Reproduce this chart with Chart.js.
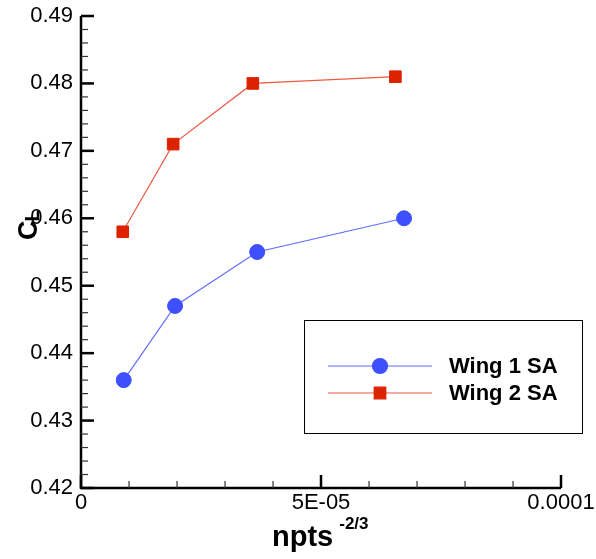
<!DOCTYPE html>
<html>
<head>
<meta charset="utf-8">
<script src="https://cdn.jsdelivr.net/npm/chart.js@4.4.1/dist/chart.umd.min.js"></script>
<style>
    html, body { margin: 0; padding: 0; background: #fff; }
    #wrap { width: 596px; height: 559px; }
</style>
</head>
<body>
<div id="wrap"><canvas id="chart" width="596" height="559"></canvas></div>
<script>
// values
const wing1X = [8.9e-6, 19.6e-6, 36.7e-6, 67.3e-6];
const wing1Cl = [0.436, 0.447, 0.455, 0.460];
const wing2X = [8.7e-6, 19.2e-6, 35.8e-6, 65.5e-6];
const wing2Cl = [0.458, 0.471, 0.480, 0.481];
const seriesNames = ["Wing 1 SA", "Wing 2 SA"];

const xTicks = [0, 5e-5, 1e-4];
const xTickLabels = ["0", "5E-05", "0.0001"];
const yTicks = [0.42, 0.43, 0.44, 0.45, 0.46, 0.47, 0.48, 0.49];
const yTickLabels = ["0.42", "0.43", "0.44", "0.45", "0.46", "0.47", "0.48", "0.49"];

const FONT = "Arial, 'Liberation Sans', sans-serif";

function toPoints(xs, ys) {
    return xs.map((x, i) => ({ x: x, y: ys[i] }));
}

// axis lines, inward major/minor ticks, titles and legend box
const decorations = {
    id: "decorations",
    afterDraw(chart) {
        const ctx = chart.ctx;
        const area = chart.chartArea;
        const xs = chart.scales.x;
        const ys = chart.scales.y;
        ctx.save();
        ctx.strokeStyle = "#000";

        // axis lines
        ctx.lineWidth = 2.5;
        ctx.beginPath();
        ctx.moveTo(area.left, area.top);
        ctx.lineTo(area.left, area.bottom);
        ctx.lineTo(area.right, area.bottom);
        ctx.stroke();

        // y ticks
        for (let i = 0; i < yTicks.length; i++) {
            const py = ys.getPixelForValue(yTicks[i]);
            ctx.lineWidth = 2.5;
            ctx.beginPath();
            ctx.moveTo(area.left, py);
            ctx.lineTo(area.left + 13, py);
            ctx.stroke();
            if (i < yTicks.length - 1) {
                ctx.lineWidth = 1.2;
                ctx.strokeStyle = "#333";
                for (let k = 1; k < 5; k++) {
                    const my = ys.getPixelForValue(yTicks[i] + k * 0.002);
                    ctx.beginPath();
                    ctx.moveTo(area.left, my);
                    ctx.lineTo(area.left + 7, my);
                    ctx.stroke();
                }
                ctx.strokeStyle = "#000";
            }
        }

        // x ticks
        for (let i = 0; i < xTicks.length; i++) {
            const px = xs.getPixelForValue(xTicks[i]);
            ctx.lineWidth = 2.5;
            ctx.beginPath();
            ctx.moveTo(px, area.bottom);
            ctx.lineTo(px, area.bottom - 13);
            ctx.stroke();
            if (i < xTicks.length - 1) {
                ctx.lineWidth = 1.2;
                ctx.strokeStyle = "#333";
                for (let k = 1; k < 5; k++) {
                    const mx = xs.getPixelForValue(xTicks[i] + k * 1e-5);
                    ctx.beginPath();
                    ctx.moveTo(mx, area.bottom);
                    ctx.lineTo(mx, area.bottom - 7);
                    ctx.stroke();
                }
                ctx.strokeStyle = "#000";
            }
        }

        // y title: C with subscript L, rotated
        ctx.fillStyle = "#000";
        ctx.save();
        ctx.translate(37, 240);
        ctx.rotate(-Math.PI / 2);
        ctx.textAlign = "left";
        ctx.textBaseline = "alphabetic";
        ctx.font = "bold 27px " + FONT;
        ctx.fillText("C", 0, 0);
        const cw = ctx.measureText("C").width;
        ctx.font = "bold 20px " + FONT;
        ctx.fillText("L", cw - 1, 2);
        ctx.restore();

        // x title: npts^-2/3
        ctx.font = "bold 29px " + FONT;
        ctx.textAlign = "left";
        ctx.textBaseline = "alphabetic";
        ctx.fillText("npts", 272, 546);
        const nw = ctx.measureText("npts").width;
        ctx.font = "bold 17px " + FONT;
        ctx.fillText("-2/3", 272 + nw + 6, 529);

        // legend
        ctx.lineWidth = 1;
        ctx.strokeStyle = "#000";
        ctx.strokeRect(304.5, 320.5, 278, 113);
        chart.data.datasets.forEach((ds, i) => {
            const ly = 366 + i * 27;
            ctx.strokeStyle = ds.borderColor;
            ctx.lineWidth = 1.2;
            ctx.beginPath();
            ctx.moveTo(328, ly);
            ctx.lineTo(432, ly);
            ctx.stroke();
            ctx.fillStyle = ds.pointBackgroundColor;
            ctx.strokeStyle = ds.pointBorderColor;
            ctx.beginPath();
            if (ds.pointStyle === "circle") {
                ctx.arc(380, ly, ds.pointRadius, 0, Math.PI * 2);
            } else {
                const s = ds.pointRadius * Math.SQRT1_2;
                ctx.rect(380 - s, ly - s, 2 * s, 2 * s);
            }
            ctx.fill();
            ctx.stroke();
            ctx.fillStyle = "#000";
            ctx.font = "bold 22px " + FONT;
            ctx.textBaseline = "middle";
            ctx.fillText(seriesNames[i], 449, ly + 1);
        });

        ctx.restore();
    }
};

new Chart(document.getElementById("chart"), {
    type: "scatter",
    data: {
        datasets: [
            {
                label: seriesNames[0],
                data: toPoints(wing1X, wing1Cl),
                showLine: true,
                borderColor: "#5f6dff",
                borderWidth: 1.2,
                pointStyle: "circle",
                pointRadius: 7.5,
                pointBackgroundColor: "#3d4fff",
                pointBorderColor: "#3d4fff",
                pointBorderWidth: 1
            },
            {
                label: seriesNames[1],
                data: toPoints(wing2X, wing2Cl),
                showLine: true,
                borderColor: "#ea5a42",
                borderWidth: 1.2,
                pointStyle: "rect",
                pointRadius: 8.2,
                pointBackgroundColor: "#dd2200",
                pointBorderColor: "#dd2200",
                pointBorderWidth: 1
            }
        ]
    },
    options: {
        responsive: false,
        animation: false,
        events: [],
        layout: { padding: { top: 16, right: 35, left: 0, bottom: 0 } },
        plugins: {
            legend: { display: false },
            tooltip: { enabled: false }
        },
        scales: {
            x: {
                type: "linear",
                min: 0,
                max: 1e-4,
                grid: { display: false, drawTicks: false },
                border: { display: false },
                afterBuildTicks: s => { s.ticks = xTicks.map(v => ({ value: v })); },
                afterFit: s => {
                    s.height = 71;
                    s.paddingLeft = 0;
                    s.paddingRight = 0;
                },
                ticks: {
                    autoSkip: false,
                    maxRotation: 0,
                    padding: 2,
                    color: "#000",
                    font: { family: FONT, size: 22 },
                    callback: (v) => xTickLabels[xTicks.indexOf(v)] ?? ""
                }
            },
            y: {
                type: "linear",
                min: 0.42,
                max: 0.49,
                grid: { display: false, drawTicks: false },
                border: { display: false },
                afterBuildTicks: s => { s.ticks = yTicks.map(v => ({ value: v })); },
                afterFit: s => {
                    s.width = 81;
                    s.paddingTop = 0;
                    s.paddingBottom = 0;
                },
                ticks: {
                    autoSkip: false,
                    padding: 8,
                    color: "#000",
                    font: { family: FONT, size: 22 },
                    callback: (v) => yTickLabels[yTicks.indexOf(v)] ?? ""
                }
            }
        }
    },
    plugins: [decorations]
});
</script>
</body>
</html>
